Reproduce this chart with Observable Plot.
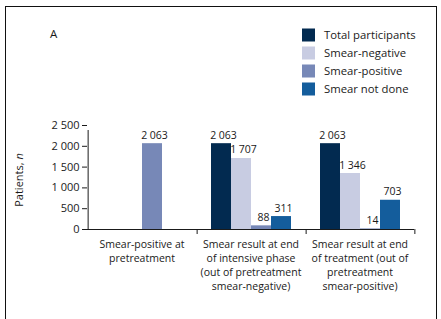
<!DOCTYPE html>
<html><head><meta charset="utf-8">
<script src="https://cdn.jsdelivr.net/npm/d3@7"></script>
<script src="https://cdn.jsdelivr.net/npm/@observablehq/plot@0.6"></script>
<style>
html,body{margin:0;padding:0;background:#fff;}
#wrap{position:relative;width:441px;height:319px;overflow:hidden;}
#frame{position:absolute;left:5px;top:6px;width:432px;height:340px;border:1.5px solid #111;box-sizing:border-box;}
#chart{position:absolute;left:0;top:0;}
</style></head><body>
<div id="wrap"><div id="frame"></div><div id="chart"></div></div>
<script>
const categories = [
  "Smear-positive at pretreatment",
  "Smear result at end of intensive phase (out of pretreatment smear-negative)",
  "Smear result at end of treatment (out of pretreatment smear-positive)"
];
const categoryLabels = [
  "Smear-positive at\npretreatment",
  "Smear result at end\nof intensive phase\n(out of pretreatment\nsmear-negative)",
  "Smear result at end\nof treatment (out of\npretreatment\nsmear-positive)"
];
const series = ["Total participants", "Smear-negative", "Smear-positive", "Smear not done"];
const colors = ["#022a50", "#c8cce2", "#7788b7", "#145d9c"];
const group1Values = [null, null, 2063, null];
const group2Values = [2063, 1707, 88, 311];
const group3Values = [2063, 1346, 14, 703];
const yTicks = [0, 500, 1000, 1500, 2000, 2500];
const panelLabel = "A";

const groups = [group1Values, group2Values, group3Values];
const data = [];
groups.forEach((vals, gi) => vals.forEach((v, si) => {
  if (v != null) data.push({category: categories[gi], series: series[si], value: v});
}));
const fmt = d3.formatLocale({decimal: ",", thousands: "\u00a0", grouping: [3], currency: ["", ""]}).format(",d");

const FONT = '"Open Sans", sans-serif';
const INK = "#1a1a1a";
const W = 441, H = 319, mL = 86, mR = 26, mT = 125, mB = 90;
const pad = 0.7;
const facetW = (W - mL - mR) / categories.length;
const step = facetW / (series.length + 2 * pad);
const edge = pad * step + step / 2;

const plot = Plot.plot({
  width: W, height: H,
  marginLeft: mL, marginRight: mR, marginTop: mT, marginBottom: mB,
  style: {fontFamily: FONT, fontSize: "11px", color: INK, background: "transparent", overflow: "visible"},
  fx: {domain: categories, padding: 0, label: null},
  x: {domain: series, paddingInner: 0, paddingOuter: pad, axis: null},
  y: {domain: [0, 2500], label: null},
  color: {domain: series, range: colors},
  marks: [
    Plot.barY(data, {fx: "category", x: "series", y: "value", fill: "series"}),
    Plot.text(data, {fx: "category", x: "series", y: "value", text: d => fmt(d.value), lineAnchor: "bottom", dy: -5, dx: 2, fontSize: 10.5, fill: INK}),
    Plot.ruleY([0], {stroke: INK}),
    Plot.ruleX([{category: categories[0], series: series[0]}], {fx: "category", x: "series", y1: 0, y2: 2500, insetBottom: -5, dx: -edge, stroke: INK}),
    Plot.ruleX(categories.slice(1).map(c => ({category: c, series: series[0]})), {fx: "category", x: "series", y1: 0, y2: 0, insetBottom: -5, dx: -edge, stroke: INK}),
    Plot.ruleX([{category: categories[categories.length - 1], series: series[series.length - 1]}], {fx: "category", x: "series", y1: 0, y2: 0, insetBottom: -5, dx: edge, stroke: INK}),
    Plot.axisY({ticks: yTicks, tickFormat: fmt, tickSize: 5, tickPadding: 3, label: null, fontSize: 11}),
    Plot.axisFx({anchor: "bottom", tickSize: 0, tickPadding: 9, tickFormat: c => categoryLabels[categories.indexOf(c)], lineHeight: 1.33, label: null, fontSize: 10.5})
  ]
});
document.getElementById("chart").appendChild(plot);

const svg = d3.select(plot);
const colorScale = plot.scale("color");
// y-axis title with italic n
const yt = svg.append("text")
  .attr("transform", "translate(23,180) rotate(-90)")
  .attr("text-anchor", "middle")
  .attr("font-family", FONT).attr("font-size", 11).attr("fill", INK);
yt.append("tspan").text("Patients, ");
yt.append("tspan").attr("font-style", "italic").text("n");
// panel label
svg.append("text").attr("x", 50).attr("y", 38).attr("text-anchor", "start")
  .attr("font-family", FONT).attr("font-size", 11.5).attr("fill", INK).text(panelLabel);
// legend
const lg = svg.append("g").attr("text-anchor", "start");
colorScale.domain.forEach((s, i) => {
  const cy = 35 + i * 18;
  lg.append("rect").attr("x", 302).attr("y", cy - 6.5).attr("width", 13).attr("height", 13).attr("fill", colorScale.apply(s));
  lg.append("text").attr("x", 324).attr("y", cy + 4)
    .attr("font-family", FONT).attr("font-size", 11.3).attr("fill", INK).text(s);
});
</script>
</body></html>
